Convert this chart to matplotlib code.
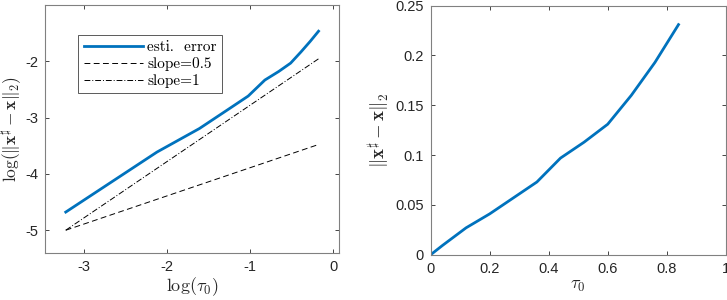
import numpy as np
import matplotlib
matplotlib.use("Agg")
import matplotlib.pyplot as plt

plt.rcParams['mathtext.fontset'] = 'cm'
plt.rcParams['font.family'] = ['Liberation Sans', 'DejaVu Sans']
plt.rcParams['axes.unicode_minus'] = False

# Data
tau0 = np.array([0.04, 0.12, 0.20, 0.28, 0.36, 0.44, 0.52, 0.60, 0.68, 0.76, 0.84])
err = np.array([0.0093, 0.027, 0.041, 0.057, 0.073, 0.097, 0.113, 0.131, 0.160, 0.193, 0.231])
tau0_right = np.concatenate([[0.0], tau0])
err_right = np.concatenate([[0.0], err])
ref_start = -5.0
slopes = [0.5, 1.0]
legend_labels = ['esti.  error', 'slope=0.5', 'slope=1']

W, H = 727, 300
fig = plt.figure(figsize=(W / 100, H / 100), dpi=100)

edge = '#808080'
tickc = '#262626'

def style(ax):
    for s in ax.spines.values():
        s.set_color(edge)
        s.set_linewidth(0.8)
    ax.tick_params(direction='in', length=3, width=0.6, color=tickc,
                   labelcolor=tickc, labelsize=10.5, top=True, right=True, pad=5)

# Left panel
ax1 = fig.add_axes([45 / W, (H - 253.3) / H, (339.3 - 45) / W, (253.3 - 5) / H])
lt = np.log(tau0)
ax1.plot(lt, np.log(err), color='#0072BD', lw=2, label=legend_labels[0])
ax1.plot(lt, ref_start + slopes[0] * (lt - lt[0]), color='k', lw=0.7,
         ls=(0, (6, 3.5)), label=legend_labels[1])
ax1.plot(lt, ref_start + slopes[1] * (lt - lt[0]), color='k', lw=0.7,
         ls=(0, (6, 2, 1, 2)), label=legend_labels[2])
ax1.set_xlim(lt[0] - 0.25, lt[-1] + 0.25)
ax1.set_ylim(-5.41, -1.0)
ax1.set_xticks([-3, -2, -1, 0])
ax1.set_yticks([-5, -4, -3, -2])
style(ax1)
ax1.set_xlabel(r'$\log(\tau_0)$', fontsize=13, color=tickc, labelpad=1)
ax1.set_ylabel(r'$\log(\|\mathbf{x}^\sharp-\mathbf{x}\|_2)$', fontsize=12.5, color=tickc, labelpad=0.5)
leg = ax1.legend(loc='upper left', bbox_to_anchor=(0.113, 0.88),
                 prop={'family': 'cmr10', 'size': 11},
                 handlelength=3.9, handletextpad=0.25, borderpad=0.35, labelspacing=0.2,
                 fancybox=False, framealpha=1, borderaxespad=0)
leg.get_frame().set_edgecolor('#404040')
leg.get_frame().set_linewidth(0.6)

# Right panel
ax2 = fig.add_axes([430.7 / W, (H - 254.7) / H, (725.7 - 430.7) / W, (254.7 - 5.7) / H])
ax2.plot(tau0_right, err_right, color='#0072BD', lw=2)
ax2.set_xlim(0, 1)
ax2.set_ylim(0, 0.25)
ax2.set_xticks([0, 0.2, 0.4, 0.6, 0.8, 1])
ax2.set_xticklabels(['0', '0.2', '0.4', '0.6', '0.8', '1'])
ax2.set_yticks([0, 0.05, 0.1, 0.15, 0.2, 0.25])
ax2.set_yticklabels(['0', '0.05', '0.1', '0.15', '0.2', '0.25'])
style(ax2)
ax2.set_xlabel(r'$\tau_0$', fontsize=13, color=tickc, labelpad=1)
ax2.set_ylabel(r'$\|\mathbf{x}^\sharp-\mathbf{x}\|_2$', fontsize=13.5, color=tickc, labelpad=2)

fig.savefig('out.png', dpi=100)
